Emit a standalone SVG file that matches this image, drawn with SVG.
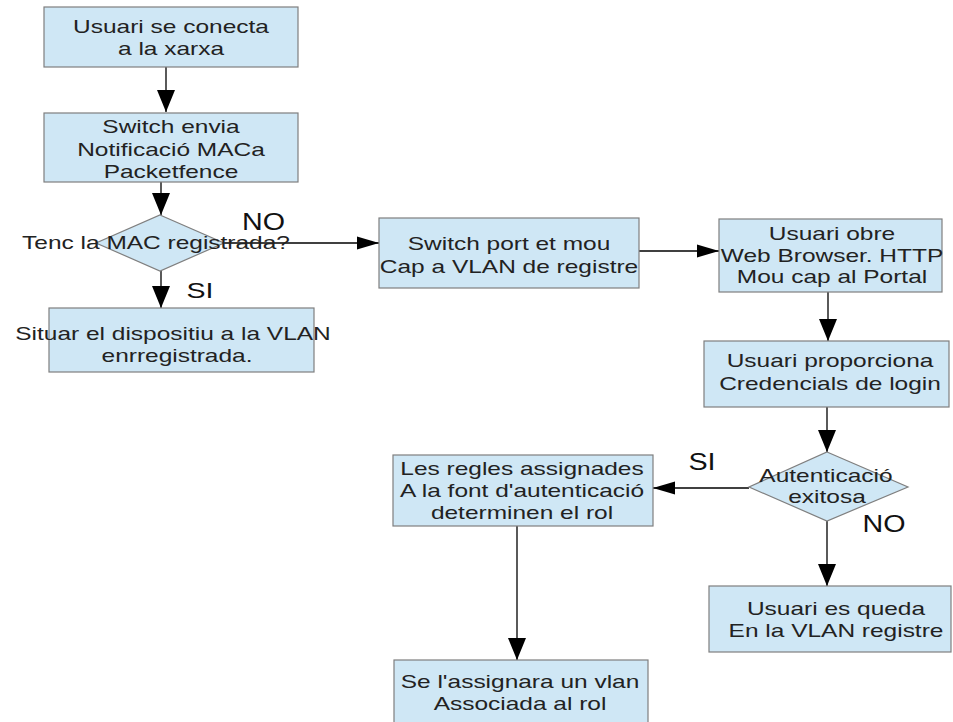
<svg xmlns="http://www.w3.org/2000/svg" width="953" height="722" viewBox="0 0 953 722">
<style>
.box{fill:#cfe7f5;stroke:#7f7f7f;stroke-width:1.2}
.t{font-family:"Liberation Sans",Arial,sans-serif;font-size:18px;fill:#222;text-anchor:middle}
.lbl{font-family:"Liberation Sans",Arial,sans-serif;fill:#111;text-anchor:middle}
.c{fill:none;stroke:#000;stroke-width:1.3}
</style>
<defs>
<marker id="av" markerUnits="userSpaceOnUse" markerWidth="24" markerHeight="20" refX="22" refY="9" orient="auto" viewBox="0 0 24 18">
<path d="M0,0 L22,9 L0,18 Z" fill="#000"/>
</marker>
<marker id="ah" markerUnits="userSpaceOnUse" markerWidth="24" markerHeight="16" refX="22" refY="6.5" orient="auto" viewBox="0 0 24 13">
<path d="M0,0 L22,6.5 L0,13 Z" fill="#000"/>
</marker>
</defs>
<rect width="953" height="722" fill="#fff"/>
<g id="connectors">
<line class="c" x1="166" y1="67" x2="166" y2="112" marker-end="url(#av)"/>
<line class="c" x1="161" y1="178" x2="161" y2="215" marker-end="url(#av)"/>
<line class="c" x1="161" y1="271" x2="161" y2="308" marker-end="url(#av)"/>
<line class="c" x1="224" y1="243" x2="379" y2="243" marker-end="url(#ah)"/>
<line class="c" x1="639" y1="251" x2="719" y2="251" marker-end="url(#ah)"/>
<line class="c" x1="828" y1="286" x2="828" y2="341" marker-end="url(#av)"/>
<line class="c" x1="827" y1="407" x2="827" y2="452" marker-end="url(#av)"/>
<line class="c" x1="749" y1="488" x2="653" y2="488" marker-end="url(#ah)"/>
<line class="c" x1="827" y1="521" x2="827" y2="586" marker-end="url(#av)"/>
<line class="c" x1="517" y1="519" x2="517" y2="660" marker-end="url(#av)"/>
</g>
<g id="n1">
<rect class="box" x="44" y="7" width="254" height="60"/>
<text class="t" transform="translate(171,33) scale(1.36,1)">Usuari se conecta</text>
<text class="t" transform="translate(171,55) scale(1.36,1)">a la xarxa</text>
</g>
<g id="n2">
<rect class="box" x="44" y="113" width="254" height="69"/>
<text class="t" transform="translate(171,133) scale(1.36,1)">Switch envia</text>
<text class="t" transform="translate(171,156) scale(1.36,1)">Notificació MACa</text>
<text class="t" transform="translate(171,178) scale(1.36,1)">Packetfence</text>
</g>
<g id="d1">
<polygon class="box" points="160,215 224,243 160,271 96,243"/>
<text class="t" transform="translate(156,249) scale(1.36,1)">Tenc la MAC registrada?</text>
</g>
<g id="n3">
<rect class="box" x="49" y="308" width="265" height="64"/>
<text class="t" transform="translate(173,340) scale(1.36,1)">Situar el dispositiu a la VLAN</text>
<text class="t" transform="translate(177,362) scale(1.36,1)">enrregistrada.</text>
</g>
<g id="n4">
<rect class="box" x="379" y="218" width="260" height="70"/>
<text class="t" transform="translate(509,250) scale(1.36,1)">Switch port et mou</text>
<text class="t" transform="translate(509,273) scale(1.36,1)">Cap a VLAN de registre</text>
</g>
<g id="n5">
<rect class="box" x="719" y="219" width="223" height="73"/>
<text class="t" transform="translate(832,240) scale(1.36,1)">Usuari obre</text>
<text class="t" transform="translate(832,262) scale(1.36,1)">Web Browser. HTTP</text>
<text class="t" transform="translate(832,283) scale(1.36,1)">Mou cap al Portal</text>
</g>
<g id="n6">
<rect class="box" x="704" y="341" width="245" height="66"/>
<text class="t" transform="translate(830,367) scale(1.36,1)">Usuari proporciona</text>
<text class="t" transform="translate(830,390) scale(1.36,1)">Credencials de login</text>
</g>
<g id="d2">
<polygon class="box" points="827,452 908,487 827,521 749,487"/>
<text class="t" transform="translate(826,482) scale(1.36,1)">Autenticació</text>
<text class="t" transform="translate(827,503) scale(1.36,1)">exitosa</text>
</g>
<g id="n7">
<rect class="box" x="393" y="455" width="260" height="71"/>
<text class="t" transform="translate(522,475) scale(1.36,1)">Les regles assignades</text>
<text class="t" transform="translate(522,497) scale(1.36,1)">A la font d'autenticació</text>
<text class="t" transform="translate(522,519) scale(1.36,1)">determinen el rol</text>
</g>
<g id="n8">
<rect class="box" x="709" y="586" width="242" height="66"/>
<text class="t" transform="translate(836,615) scale(1.36,1)">Usuari es queda</text>
<text class="t" transform="translate(836,637) scale(1.36,1)">En la VLAN registre</text>
</g>
<g id="n9">
<rect class="box" x="394" y="660" width="254" height="70"/>
<text class="t" transform="translate(520,688) scale(1.36,1)">Se l'assignara un vlan</text>
<text class="t" transform="translate(520,710) scale(1.36,1)">Associada al rol</text>
</g>
<g id="labels">
<text class="lbl" font-size="23.5" transform="translate(263.5,230) scale(1.22,1)">NO</text>
<text class="lbl" font-size="22" transform="translate(200,298) scale(1.3,1)">SI</text>
<text class="lbl" font-size="23" transform="translate(702,470) scale(1.25,1)">SI</text>
<text class="lbl" font-size="23.5" transform="translate(884,532) scale(1.22,1)">NO</text>
</g>
</svg>
